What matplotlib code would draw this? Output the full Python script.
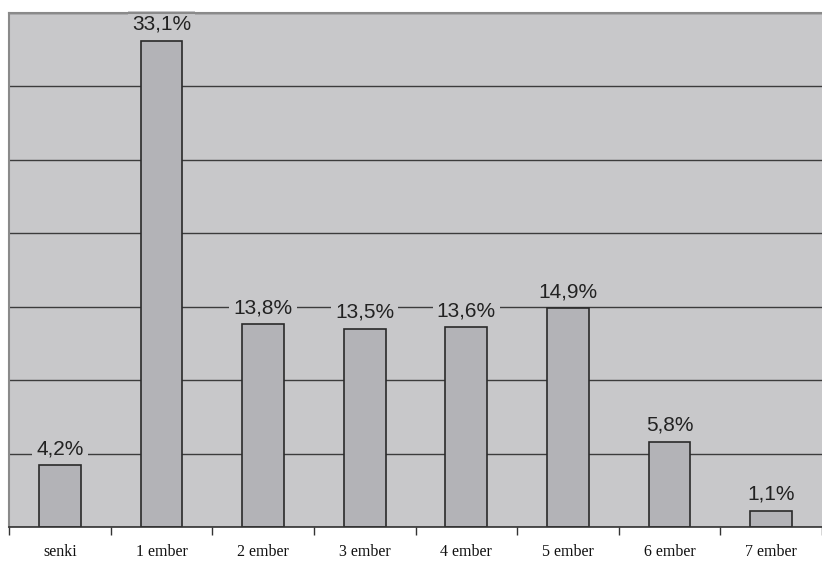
import matplotlib
matplotlib.use("Agg")
import matplotlib.pyplot as plt
import numpy as np

categories = ["senki", "1 ember", "2 ember", "3 ember", "4 ember", "5 ember", "6 ember", "7 ember"]
values = [4.2, 33.1, 13.8, 13.5, 13.6, 14.9, 5.8, 1.1]
labels = ["4,2%", "33,1%", "13,8%", "13,5%", "13,6%", "14,9%", "5,8%", "1,1%"]

W, H = 822, 562
fig = plt.figure(figsize=(W/100, H/100), dpi=100)
fig.patch.set_facecolor("white")
left, right, top, bottom = 9, 822, 13, 527
ax = fig.add_axes([left/W, (H-bottom)/H, (right-left)/W, (bottom-top)/H])
bg = "#c8c8ca"
ax.set_facecolor(bg)

x = np.arange(len(categories))
ax.set_xlim(-0.5, len(categories)-0.5)
ax.set_ylim(0, 35)
ax.set_yticks(np.arange(0, 36, 5))
ax.yaxis.grid(True, color="#3c3c3c", linewidth=1.0)
ax.set_axisbelow(True)
ax.tick_params(axis="y", left=False, labelleft=False)

ax.bar(x, values, width=0.41, color="#b3b3b7", edgecolor="#2a2a2a", linewidth=1.2, zorder=5)

for xi, v, lab in zip(x, values, labels):
    ax.annotate(lab, (xi, v), xytext=(0, 5), textcoords="offset points",
                ha="center", va="bottom", fontsize=15, family="Liberation Sans",
                color="#222222", zorder=4,
                bbox=dict(boxstyle="square,pad=0.2", facecolor=bg, edgecolor="none"))

ax.set_xticks(x)
ax.set_xticklabels(categories, family="Liberation Serif", fontsize=11.5, color="#111111")
ax.tick_params(axis="x", which="major", length=0, pad=12)
ax.set_xticks(np.arange(-0.5, len(categories)), minor=True)
ax.tick_params(axis="x", which="minor", length=6, width=1.0, color="#333333", direction="out")

for s in ["top", "right", "left"]:
    ax.spines[s].set_color("#8a8a8a")
    ax.spines[s].set_linewidth(1.5)
ax.spines["right"].set_visible(False)
ax.spines["bottom"].set_color("#333333")
ax.spines["bottom"].set_linewidth(1.2)
for s in ax.spines.values():
    s.set_zorder(6)

fig.savefig("out.png", dpi=100, facecolor="white")
